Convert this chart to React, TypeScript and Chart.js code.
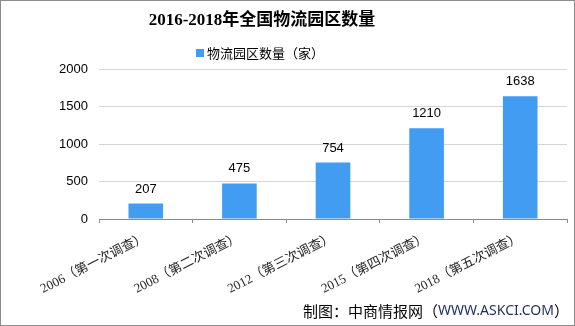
import React, { useEffect, useRef } from "react";
import { Chart, registerables } from "chart.js";

Chart.register(...registerables);

const categories = [
  "2006（第一次调查）",
  "2008（第二次调查）",
  "2012（第三次调查）",
  "2015（第四次调查）",
  "2018（第五次调查）",
];
const parkCounts = [207, 475, 754, 1210, 1638];
const seriesLabel = "物流园区数量（家）";
const titleText = "2016-2018年全国物流园区数量";
const sourcePrefix = "制图：中商情报网（";
const sourceUrl = "WWW.ASKCI.COM";
const sourceSuffix = "）";
const yTicks = [0, 500, 1000, 1500, 2000];

const BAR_COLOR = "#429df2";
const SERIF = "'Liberation Serif', 'Noto Sans CJK SC', serif";
const SANS = "'Liberation Sans', 'Noto Sans CJK SC', sans-serif";
const CJK = "'Noto Sans CJK SC', sans-serif";

const decorPlugin = {
  id: "decor",
  afterDraw(chart: any) {
    const ctx = chart.ctx;
    ctx.save();
    // border
    ctx.strokeStyle = "#8c8c8c";
    ctx.lineWidth = 1;
    ctx.strokeRect(0.5, 0.5, chart.width - 1, chart.height - 1);

    // title
    ctx.fillStyle = "#000";
    ctx.font = `bold 17px ${SERIF}`;
    ctx.textAlign = "center";
    ctx.textBaseline = "middle";
    ctx.fillText(titleText, 262, 21);

    // legend
    const ds = chart.data.datasets[0];
    ctx.font = `13px ${CJK}`;
    const tw = ctx.measureText(ds.label).width;
    const total = 8 + 3 + tw;
    const lx = 260 - total / 2;
    ctx.fillStyle = ds.backgroundColor;
    ctx.fillRect(lx, 49, 8, 8);
    ctx.fillStyle = "#000";
    ctx.textAlign = "left";
    ctx.fillText(ds.label, lx + 11, 53);

    // data labels
    const meta = chart.getDatasetMeta(0);
    ctx.font = `13px ${SANS}`;
    ctx.textAlign = "center";
    ctx.textBaseline = "bottom";
    ctx.fillStyle = "#000";
    meta.data.forEach((bar: any, i: number) => {
      ctx.fillText(String(ds.data[i]), bar.x, bar.y - 8);
    });

    // source
    ctx.font = `15px ${CJK}`;
    ctx.textBaseline = "middle";
    ctx.textAlign = "left";
    let x = 303;
    const y = 311;
    ctx.fillStyle = "#000";
    ctx.fillText(sourcePrefix, x, y);
    x += ctx.measureText(sourcePrefix).width;
    ctx.font = `14px 'Noto Sans', ${CJK}`;
    ctx.fillStyle = "#1c2f5e";
    ctx.fillText(sourceUrl, x, y);
    x += ctx.measureText(sourceUrl).width;
    ctx.font = `15px ${CJK}`;
    ctx.fillStyle = "#000";
    ctx.fillText(sourceSuffix, x, y);
    ctx.restore();
  },
};

export default function App() {
  const canvasRef = useRef<HTMLCanvasElement>(null);

  useEffect(() => {
    document.body.style.margin = "0";
    const canvas = canvasRef.current;
    if (!canvas) return;
    const chart = new Chart(canvas, {
      type: "bar",
      data: {
        labels: categories,
        datasets: [
          {
            label: seriesLabel,
            data: parkCounts,
            backgroundColor: BAR_COLOR,
            categoryPercentage: 1,
            barPercentage: 0.37,
          },
        ],
      },
      options: {
        responsive: false,
        animation: false,
        devicePixelRatio: 1,
        layout: { padding: { left: 0, right: 8, top: 69, bottom: 0 } },
        plugins: {
          legend: { display: false },
          title: { display: false },
          tooltip: { enabled: false },
        },
        scales: {
          x: {
            afterFit: (scale: any) => {
              scale.height = 107;
            },
            grid: {
              display: true,
              drawOnChartArea: false,
              drawTicks: true,
              tickLength: 4,
              color: "#8c8c8c",
              offset: true,
            },
            border: { display: true, color: "#8c8c8c", width: 1 },
            ticks: {
              autoSkip: false,
              minRotation: 27,
              maxRotation: 27,
              padding: 7,
              color: "#222",
              font: { size: 13, family: SERIF },
            },
          },
          y: {
            min: 0,
            max: 2000,
            afterFit: (scale: any) => {
              scale.width = 99;
            },
            afterBuildTicks: (scale: any) => {
              scale.ticks = yTicks.map((v) => ({ value: v }));
            },
            grid: {
              color: "#d4d4d4",
              drawTicks: false,
            },
            border: { display: false },
            ticks: {
              padding: 11,
              color: "#000",
              font: { size: 13, family: SANS },
              callback: (v: any) => String(v),
            },
          },
        },
      },
      plugins: [decorPlugin],
    });
    return () => chart.destroy();
  }, []);

  return (
    <div style={{ position: "absolute", left: 0, top: 0, width: 575, height: 326, background: "#fff" }}>
      <canvas ref={canvasRef} width={575} height={326} style={{ display: "block" }} />
    </div>
  );
}
